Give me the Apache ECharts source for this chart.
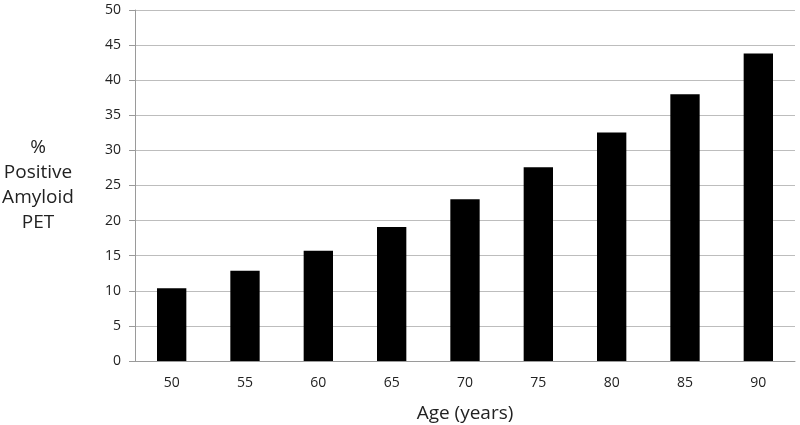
<!DOCTYPE html>
<html>
<head>
<meta charset="utf-8">
<script src="https://cdn.jsdelivr.net/npm/echarts@6/dist/echarts.min.js"></script>
<style>
    html, body { margin: 0; padding: 0; background: #fff; }
    #chart { width: 800px; height: 425px; }
</style>
</head>
<body>
<div id="chart"></div>
<script>
    // 年龄分组与阳性比例
    const ages = ['50', '55', '60', '65', '70', '75', '80', '85', '90'];
    const positivePct = [10.35, 12.85, 15.7, 19.1, 23.05, 27.6, 32.55, 38.0, 43.8];

    const myChart = echarts.init(document.getElementById('chart'));
    const textColor = '#222';
    const option = {
        animation: false,
        grid: {
            left: 135,
            right: 5,
            top: 10,
            bottom: 64,
            outerBoundsMode: 'none'
        },
        //横坐标
        xAxis: {
            type: 'category',
            data: ages,
            name: 'Age (years)',
            nameLocation: 'middle',
            nameGap: 43,
            nameTextStyle: {
                fontFamily: 'Open Sans',
                fontSize: 19,
                color: textColor
            },
            axisLine: { lineStyle: { color: '#9a9a9a' } },
            axisTick: { alignWithLabel: false, length: 6, lineStyle: { color: '#9a9a9a' } },
            axisLabel: {
                fontFamily: 'Open Sans',
                fontSize: 14,
                color: textColor,
                margin: 15
            }
        },
        //纵坐标
        yAxis: {
            type: 'value',
            min: 0,
            max: 50,
            interval: 5,
            name: '%\nPositive\nAmyloid\nPET',
            nameLocation: 'middle',
            nameRotate: 0,
            nameGap: 97,
            nameTextStyle: {
                fontFamily: 'Open Sans',
                fontSize: 19,
                lineHeight: 25,
                color: textColor,
                align: 'center',
                verticalAlign: 'middle'
            },
            axisLine: { show: true, lineStyle: { color: '#9a9a9a' } },
            axisTick: { show: true, length: 6, lineStyle: { color: '#9a9a9a' } },
            axisLabel: {
                fontFamily: 'Open Sans',
                fontSize: 14,
                color: textColor,
                margin: 14
            },
            splitLine: { lineStyle: { color: '#bdbdbd', width: 1 } }
        },
        series: [
            {
                type: 'bar',
                data: positivePct,
                barCategoryGap: '60%',
                itemStyle: { color: '#000' }
            }
        ]
    };
    myChart.setOption(option);
</script>
</body>
</html>
